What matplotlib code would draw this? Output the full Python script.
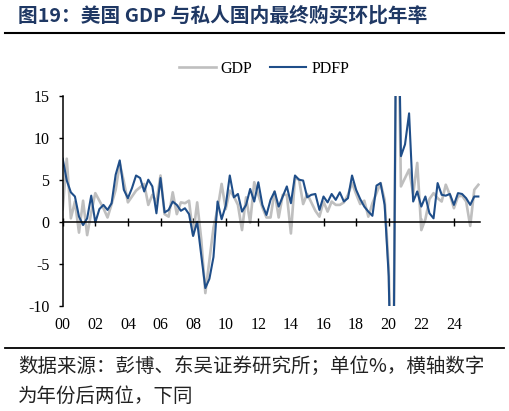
#!/usr/bin/env python3
"""US GDP vs private domestic final purchases, q/q annualised (chart 19)."""

import numpy as np
import matplotlib
matplotlib.use("Agg")
import matplotlib.pyplot as plt
from matplotlib.lines import Line2D

# ---- data (quarterly, 2000Q1 .. 2025Q3, % q/q saar) ----
start_year = 2000
gdp = [
    1.5, 7.5, 0.4, 2.4,   -1.3, 2.5, -1.6, 1.1,   3.4, 2.5, 1.6, 0.5,
    2.1, 3.8, 6.9, 4.8,   2.3, 3.0, 3.7, 4.1,     4.5, 2.0, 3.2, 2.3,
    5.5, 0.9, 0.6, 3.5,   0.9, 2.3, 2.2, 2.5,     -1.6, 2.3, -2.1, -8.5,
    -4.6, -0.7, 1.5, 4.5, 1.5, 3.7, 3.0, 2.0,     -1.0, 2.9, -0.1, 4.7,
    3.2, 1.7, 0.5, 0.5,   3.6, 0.5, 3.2, 3.2,     -1.4, 5.2, 5.0, 2.1,
    3.3, 2.3, 1.3, 0.6,   2.4, 1.2, 2.4, 2.0,     2.0, 2.3, 3.2, 4.6,
    3.3, 2.1, 2.5, 0.6,   2.2, 3.4, 4.6, 2.6,     -5.5, -28.0, 34.8, 4.2,
    5.2, 6.2, 3.3, 7.0,   -1.0, 0.3, 2.7, 3.4,    2.8, 2.4, 4.4, 3.2,
    1.6, 3.0, 3.1, 2.4,   -0.5, 3.8, 4.4,
]
pdfp = [
    7.5, 4.9, 3.5, 3.0,   0.6, -0.4, 0.4, 3.1,    -0.1, 1.5, 2.0, 1.4,
    2.2, 5.6, 7.3, 3.8,   2.8, 4.0, 5.5, 5.2,     3.6, 5.0, 4.2, 1.0,
    5.2, 1.1, 1.4, 2.4,   2.0, 1.3, 1.6, 0.9,     -1.7, 0.0, -4.0, -7.9,
    -6.8, -4.2, 2.4, 0.3, 1.9, 5.5, 2.9, 3.3,     1.2, 2.0, 3.9, 2.4,
    4.7, 2.0, 0.8, 2.6,   3.6, 1.8, 3.0, 4.2,     2.2, 5.5, 5.0, 4.9,
    2.9, 3.2, 3.3, 1.4,   3.0, 2.3, 3.3, 2.6,     3.5, 2.4, 2.8, 5.5,
    3.8, 2.7, 1.8, 1.2,   0.7, 4.3, 4.6, 2.0,     -6.5, -31.0, 38.0, 7.8,
    9.2, 12.9, 2.4, 3.6,  1.8, 3.0, 1.0, 0.4,     4.6, 3.2, 3.1, 3.3,
    2.0, 3.4, 3.3, 2.8,   2.0, 3.0, 3.0,
]
tick_years = list(range(2000, 2025, 2))
tick_labels = [f"{y % 100:02d}" for y in tick_years]
y_ticks = [-10, -5, 0, 5, 10, 15]

title = "图19：美国 GDP 与私人国内最终购买环比年率"
note1 = "数据来源：彭博、东吴证券研究所；单位%，横轴数字"
note2 = "为年份后两位，下同"

CJK = ["Noto Sans CJK SC", "DejaVu Sans"]
NAVY = "#1F3864"
BLUE = "#1F4E89"
GREY = "#BFBFBF"

plt.rcParams["font.family"] = ["Liberation Serif", "DejaVu Sans"]
plt.rcParams["axes.unicode_minus"] = False

W, H = 510, 411
fig = plt.figure(figsize=(W / 100, H / 100), dpi=100)
ax = fig.add_axes([62.7 / W, (H - 305.7) / H, (480 - 62.7) / W, 210 / H])

x = start_year + np.arange(len(gdp)) * 0.25
ax.plot(x, gdp, color=GREY, lw=1.9, label="GDP")
ax.plot(x, pdfp, color=BLUE, lw=1.5, label="PDFP")

ax.set_xlim(2000, 2025.6)
ax.set_ylim(-10, 15)
ax.set_yticks(y_ticks)
ax.tick_params(axis="y", direction="out", length=3, width=1, pad=6.5,
               labelsize=11.5)

# x axis sits on the zero line, labels stay under the plot
ax.spines["bottom"].set_position(("data", 0))
ax.set_xticks(tick_years)
ax.set_xticklabels([])
ax.tick_params(axis="x", direction="inout", length=6, width=1)
for yr, lab in zip(tick_years, tick_labels):
    ax.text(yr, -0.092, lab, transform=ax.get_xaxis_transform(),
            ha="center", va="center", fontsize=11.5)

for s in ("top", "right"):
    ax.spines[s].set_visible(False)
for s in ("left", "bottom"):
    ax.spines[s].set_linewidth(1.1)

ax.legend(loc="center", bbox_to_anchor=(264 / W, 1 - 69 / H),
          bbox_transform=fig.transFigure, ncol=2, frameon=False,
          fontsize=11.5, handlelength=2.3, handletextpad=0.3,
          columnspacing=1.1)

# header / footer
fig.text(18 / W, 1 - 16 / H, title, family=CJK, fontsize=14.2,
         fontweight="bold", color=NAVY, ha="left", va="center")
fig.add_artist(Line2D([5 / W, 504 / W], [1 - 33.3 / H] * 2,
                      color="black", lw=1.5))
fig.add_artist(Line2D([5 / W, 504 / W], [1 - 348.3 / H] * 2,
                      color="black", lw=1.3))
fig.text(18 / W, 1 - 366 / H, note1, family=CJK, fontsize=14,
         color="#222222", ha="left", va="center")
fig.text(18 / W, 1 - 396 / H, note2, family=CJK, fontsize=14,
         color="#222222", ha="left", va="center")

fig.savefig("out.png", dpi=100)
